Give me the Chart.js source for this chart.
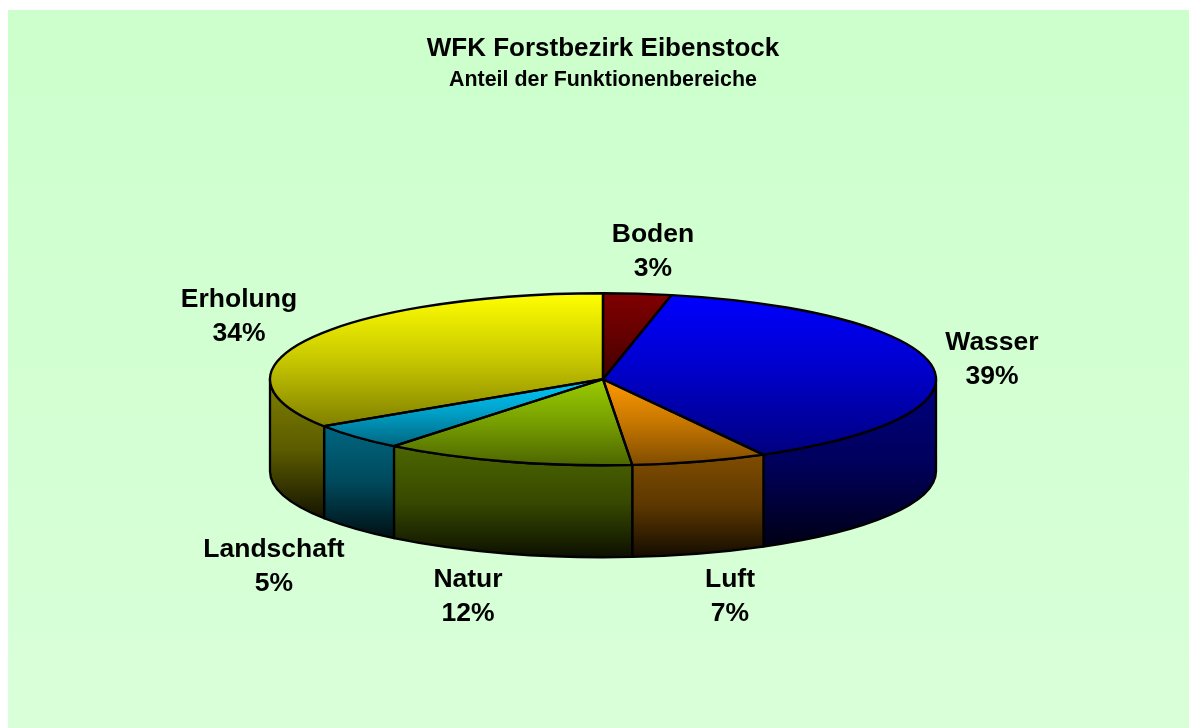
<!DOCTYPE html>
<html>
<head>
<meta charset="utf-8">
<style>html,body{margin:0;padding:0;background:#fff;overflow:hidden}canvas{display:block}</style>
<script src="https://cdn.jsdelivr.net/npm/chart.js@4/dist/chart.umd.min.js"></script>
</head>
<body>
<canvas id="c" width="1189" height="728"></canvas>
<script>
const categories = ['Boden', 'Wasser', 'Luft', 'Natur', 'Landschaft', 'Erholung'];
const shares = [3.3, 38.7, 6.6, 12.2, 5.0, 34.2];
const shareLabels = ['3%', '39%', '7%', '12%', '5%', '34%'];
const titleText = 'WFK Forstbezirk Eibenstock';
const subtitleText = 'Anteil der Funktionenbereiche';
const sliceColors = [[128,0,0],[0,0,255],[255,153,0],[153,204,0],[0,204,255],[255,255,0]];

const FONT = '"Liberation Sans", Arial, sans-serif';
const TILT = 86 / 333, RADIUS = 333, DEPTH = 92;
const labelCenters = [[653,235],[992,343],[730,580],[468,580],[274,550],[239,300]];

const rgb = (c, f) => `rgb(${c.map(v => Math.round(v * f)).join(',')})`;

function sliceAngles(i) {
  const total = shares.reduce((a, b) => a + b, 0);
  let before = 0;
  for (let k = 0; k < i; k++) before += shares[k];
  const a0 = -Math.PI / 2 + before / total * 2 * Math.PI;
  return [a0, a0 + shares[i] / total * 2 * Math.PI];
}

function topGradient(ctx) {
  const chart = ctx.chart, i = ctx.dataIndex, base = sliceColors[i];
  if (!chart.chartArea) return rgb(base, 1);
  const cy = (chart.chartArea.top + chart.chartArea.bottom) / 2;
  const [a0, a1] = sliceAngles(i);
  const ys = [0, Math.sin(a0), Math.sin(a1)];
  for (let t = -Math.PI / 2; t <= 2 * Math.PI; t += Math.PI) {
    if (t >= a0 && t <= a1) ys.push(Math.sin(t));
  }
  const g = chart.ctx.createLinearGradient(0, cy + Math.min(...ys) * RADIUS, 0, cy + Math.max(...ys) * RADIUS);
  g.addColorStop(0, rgb(base, 1));
  g.addColorStop(0.5, rgb(base, 0.78));
  g.addColorStop(1, rgb(base, 0.5));
  return g;
}

const pie3d = {
  id: 'pie3d',
  beforeDraw(chart) {
    const c = chart.ctx;
    const g = c.createLinearGradient(0, 10, 0, 728);
    g.addColorStop(0, '#CCFFCC');
    g.addColorStop(1, '#D9FFD9');
    c.save();
    c.fillStyle = '#fff';
    c.fillRect(0, 0, 1189, 728);
    c.fillStyle = g;
    c.fillRect(8, 10, 1181, 718);
    c.restore();
  },
  beforeDatasetsDraw(chart) {
    const c = chart.ctx;
    c.save();
    c.strokeStyle = '#000';
    c.lineWidth = 2.3;
    c.lineJoin = 'round';
    chart.getDatasetMeta(0).data.forEach((arc, i) => {
      const lo = Math.max(arc.startAngle, 0), hi = Math.min(arc.endAngle, Math.PI);
      if (hi <= lo) return;
      const ry = arc.outerRadius * TILT;
      const ys = [arc.y + ry * Math.sin(lo), arc.y + ry * Math.sin(hi)];
      const hasBottom = lo <= Math.PI / 2 && hi >= Math.PI / 2;
      const yTop = Math.min(...ys);
      const yBot = (hasBottom ? arc.y + ry : Math.max(...ys)) + DEPTH;
      const g = c.createLinearGradient(0, yTop, 0, yBot);
      g.addColorStop(0, rgb(sliceColors[i], 0.5));
      g.addColorStop(0.5, rgb(sliceColors[i], 0.36));
      g.addColorStop(1, rgb(sliceColors[i], 0.08));
      c.beginPath();
      c.ellipse(arc.x, arc.y, arc.outerRadius, ry, 0, lo, hi, false);
      c.ellipse(arc.x, arc.y + DEPTH, arc.outerRadius, ry, 0, hi, lo, true);
      c.closePath();
      c.fillStyle = g;
      c.fill();
      c.stroke();
    });
    c.restore();
  },
  beforeDatasetDraw(chart) {
    const c = chart.ctx, a = chart.chartArea, cy = (a.top + a.bottom) / 2;
    c.save();
    c.translate(0, cy);
    c.scale(1, TILT);
    c.translate(0, -cy);
  },
  afterDatasetDraw(chart) {
    chart.ctx.restore();
  },
  afterDatasetsDraw(chart) {
    const c = chart.ctx;
    c.save();
    c.strokeStyle = '#000';
    c.lineWidth = 2.3;
    c.lineJoin = 'round';
    chart.getDatasetMeta(0).data.forEach(arc => {
      c.beginPath();
      c.moveTo(arc.x, arc.y);
      c.ellipse(arc.x, arc.y, arc.outerRadius, arc.outerRadius * TILT, 0, arc.startAngle, arc.endAngle, false);
      c.closePath();
      c.stroke();
    });
    c.fillStyle = '#000';
    c.font = 'bold 26.5px ' + FONT;
    c.textAlign = 'center';
    c.textBaseline = 'middle';
    categories.forEach((name, i) => {
      const [x, y] = labelCenters[i];
      c.fillText(name, x, y);
      c.fillText(shareLabels[i], x, y + 34);
    });
    c.restore();
  }
};

new Chart(document.getElementById('c'), {
  type: 'pie',
  data: {
    labels: categories,
    datasets: [{
      data: shares,
      backgroundColor: topGradient,
      borderWidth: 0,
      clip: false
    }]
  },
  plugins: [pie3d],
  options: {
    responsive: false,
    animation: false,
    radius: RADIUS,
    layout: { padding: { left: 17, right: 0, top: 10, bottom: 62 } },
    plugins: {
      legend: { display: false },
      tooltip: { enabled: false },
      title: {
        display: true, text: titleText, color: '#000',
        font: { family: FONT, size: 26, weight: 'bold', lineHeight: 1.2 },
        padding: { top: 23.4, bottom: 0 }
      },
      subtitle: {
        display: true, text: subtitleText, color: '#000',
        font: { family: FONT, size: 21.4, weight: 'bold', lineHeight: 1.2 },
        padding: { top: 2.2, bottom: 0 }
      }
    }
  }
});
</script>
</body>
</html>
